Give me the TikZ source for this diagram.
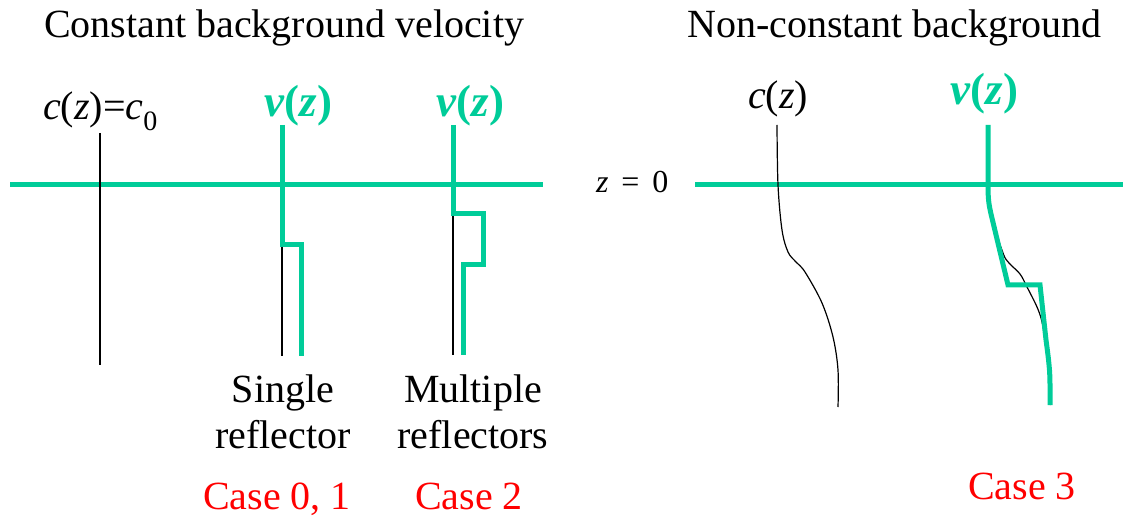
\documentclass[tikz,border=0pt]{standalone}
\usepackage{fontspec}
\setmainfont{Liberation Serif}
\definecolor{vgreen}{RGB}{0,204,153}
\definecolor{cred}{RGB}{255,0,0}
\begin{document}
\begin{tikzpicture}[x=1pt,y=-1pt,
  lbl/.style={inner sep=0pt,anchor=base west,font=\fontsize{40}{46}\selectfont},
  clbl/.style={inner sep=0pt,anchor=base,align=center,font=\fontsize{40}{46}\selectfont},
  vlbl/.style={inner sep=0pt,anchor=base west,text=vgreen,font=\fontsize{45}{50}\selectfont\bfseries},
  caselbl/.style={inner sep=0pt,anchor=base,text=cred,font=\fontsize{40}{46}\selectfont},
  gline/.style={draw=vgreen,line width=5pt},
  bline/.style={draw=black,line width=1.2pt}]
\useasboundingbox (0,0) rectangle (1123,518);

% titles
\node[lbl] (t1) at (44,38) {Constant background velocity};
\node[lbl] (t2) at (687,38) {Non-constant background};

% left panel labels
\node[lbl] (c0) at (43,120) {\textit{c}(\textit{z})=\textit{c}\textsubscript{0}};
\node[vlbl] (v1) at (264,117) {\textit{v}(\textit{z})};
\node[vlbl] (v2) at (436,117) {\textit{v}(\textit{z})};

% left panel lines
\path[gline] (10,185) -- (543,185);
\path[bline] (100,133) -- (100,365);
\path[bline] (282,245) -- (282,356);
\path[gline] (282,125) -- (282,245) -- (301,245) -- (301,356);
\path[bline] (453,214) -- (453,355);
\path[gline] (453,125) -- (453,214) -- (483,214) -- (483,265) -- (463,265) -- (463,355);

% bottom labels
\node[clbl] (s1) at (283,448) {Single\\reflector};
\node[clbl] (s2) at (473,448) {Multiple\\reflectors};
\node[caselbl] (k1) at (277,509) {Case 0, 1};
\node[caselbl] (k2) at (469,509) {Case 2};
\node[caselbl] (k3) at (1022,499) {Case 3};

% right panel
\node[lbl] (cz) at (748,109) {\textit{c}(\textit{z})};
\node[vlbl] (vz) at (950,105) {\textit{v}(\textit{z})};
\node[inner sep=0pt,anchor=base west,font=\fontsize{32}{36}\selectfont] (z0) at (596,193) {\textit{z}\hspace{0.4em}=\hspace{0.4em}0};

\path[gline] (695,185) -- (1123,185);
\draw[bline] plot[smooth,tension=0.55] coordinates {(777,125) (778,185) (782,230) (788,252) (796,262) (805,272) (822,303) (833,337) (838,370) (838,407)};
\draw[bline] plot[smooth,tension=0.55] coordinates {(988,185) (991,215) (1003,253) (1009,263) (1020,274) (1027,287) (1037,307) (1042,322) (1047,350) (1050,385) (1050,405)};
\path[gline] (988,125) -- (988,185) .. controls (988,200) and (989,205) .. (991,214) -- (1008,285) -- (1040,285) -- (1046,340) .. controls (1049,362) and (1050,372) .. (1050,385) -- (1050,405);
\end{tikzpicture}
\end{document}
